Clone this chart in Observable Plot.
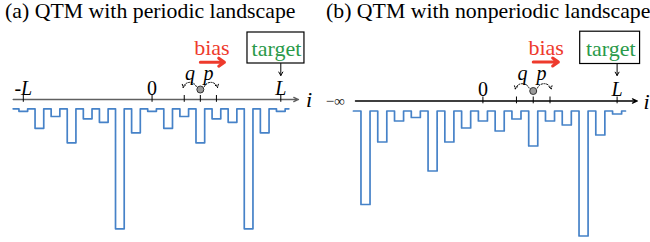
<!DOCTYPE html>
<html><head><meta charset="utf-8">
<script src="https://cdn.jsdelivr.net/npm/d3@7"></script>
<script src="https://cdn.jsdelivr.net/npm/@observablehq/plot@0.6"></script>
<style>
body{margin:0;background:#fff;font-family:"Liberation Serif",serif;}
#wrap{display:flex;width:650px;height:242px;overflow:hidden;background:#fff}
.panel{width:325px;flex:0 0 325px;position:relative}
.title{height:26px;line-height:22px;font-size:21.8px;white-space:nowrap;color:#000;font-family:"Liberation Serif",serif}
svg{overflow:visible}
svg text{font-family:"Liberation Serif",serif !important}
</style></head><body>
<div id="wrap">
  <div class="panel" id="pa"><div class="title" style="padding-left:5px">(a) QTM with periodic landscape</div></div>
  <div class="panel" id="pb"><div class="title" style="padding-left:1px">(b) QTM with nonperiodic landscape</div></div>
</div>
<script>
// ---- data ----
const sitesA = [-8,-7,-6,-5,-4,-3,-2,-1,0,1,2,3,4,5,6,7,8];
const depthA = [2.5,19.5,7.7,34,10,13.5,120,24,2.5,19.5,7.7,34,10,13.5,120,24,2.5];
const sitesB = [-7,-6,-5,-4,-3,-2,-1,0,1,2,3,4,5,6,7,8];
const depthB = [93.5,31,10,6.5,60,31,17,10,20,8,35,10,14,125,24,3];
const ticksA = [-8,0,2,3,4,8];
const ticksB = [0,2,3,4,8];
const labelsA = [{x:-8, t:"-L", it:true},{x:0, t:"0", it:false},{x:8, t:"L", it:true}];
const labelsB = [{x:0, t:"0", it:false},{x:8, t:"L", it:true}];
const walker = 3, qSite = 2, pSite = 4, target = 8;

const BLUE = "#4682c8", RED = "#ee3a2c", GREEN = "#2a9a4a";
const FONT = "Liberation Serif";

function steps(sites, depths, start, end, hw, gap) {
  const pts = [{x:start, y:-gap}];
  sites.forEach((s,k) => {
    pts.push({x:s-hw, y:-gap}, {x:s-hw, y:-gap-depths[k]}, {x:s+hw, y:-gap-depths[k]}, {x:s+hw, y:-gap});
  });
  pts.push({x:end, y:-gap});
  return pts;
}

function panel(c) {
  return Plot.plot({
    width: 325, height: 216, margin: 0,
    x: {domain: c.xDomain, range: c.xRange, axis: null},
    y: {domain: [0, -150], range: [c.axisY, c.axisY + 150], axis: null},
    style: {background: "transparent", fontFamily: FONT, overflow: "visible"},
    marks: [
      Plot.line(steps(c.sites, c.depths, c.start, c.end, 0.27, c.gap), {x:"x", y:"y", stroke: BLUE, strokeWidth: 1.7}),
      Plot.arrow([{a:c.axisFrom, b:c.axisTo}], {x1:"a", x2:"b", y1:0, y2:0, stroke: c.axisColor, strokeWidth: 1.3, headLength: 6, headAngle: 50}),
      Plot.ruleX(c.ticks, {x: d=>d, y1: -2.8, y2: 4, stroke: "#000", strokeWidth: 1}),
      Plot.text(c.labels.filter(d=>d.it), {x:"x", y: c.labY, text:"t", lineAnchor:"bottom", fontSize: 20, fontStyle:"italic", fontFamily: FONT, fill:"#000"}),
      Plot.text(c.labels.filter(d=>!d.it), {x:"x", y: c.labY, text:"t", lineAnchor:"bottom", fontSize: 20, fontFamily: FONT, fill:"#000"}),
      Plot.text([{x:9.75, t:"i"}], {x:"x", y: c.iY, text:"t", lineAnchor:"bottom", fontSize: 22, fontStyle:"italic", fontFamily: FONT, fill:"#000"}),
      Plot.text([{x:qSite+0.36, t:"q"},{x:pSite-0.5, t:"p"}], {x:"x", y: c.qY, text:"t", lineAnchor:"bottom", fontSize: 20, fontStyle:"italic", fontFamily: FONT, fill:"#000"}),
      Plot.arrow([{a:walker-0.25, b:qSite-0.07}], {x1:"a", x2:"b", y1: 13, y2: 12, bend: -70, stroke:"#000", strokeWidth: 1, strokeDasharray:"1.2,1.5", headLength: 5}),
      Plot.arrow([{a:walker+0.25, b:pSite+0.07}], {x1:"a", x2:"b", y1: 13, y2: 12, bend: 70, stroke:"#000", strokeWidth: 1, strokeDasharray:"1.2,1.5", headLength: 5}),
      Plot.dot([walker], {x: d=>d, y: 10, r: 3.5, fill: "#9a9a9a", stroke: "#333", strokeWidth: 1}),
      Plot.text([{x: c.biasX, t:"bias"}], {x:"x", y: c.biasY, text:"t", lineAnchor:"bottom", fontSize: 22, fontFamily: FONT, fill: RED}),
      Plot.arrow([{a: walker, b: walker + 1.5}], {x1:"a", x2:"b", y1: c.biasArrowY, y2: c.biasArrowY, stroke: RED, strokeWidth: 3, headLength: 3.5, headAngle: 70}),
      Plot.rect([{a: c.boxX1, b: c.boxX2}], {x1:"a", x2:"b", y1: c.boxY1, y2: c.boxY2, fill:"none", stroke:"#000", strokeWidth: 1.2}),
      Plot.text([{x: c.targetX, t:"target"}], {x:"x", y: c.targetY, text:"t", lineAnchor:"bottom", fontSize: 22, fontFamily: FONT, fill: GREEN}),
      Plot.arrow([target], {x1: d=>d, x2: d=>d, y1: c.boxY2, y2: c.tArrowEnd, stroke:"#000", strokeWidth: 1, headLength: 6}),
      ...(c.extra || [])
    ]
  });
}

const plotA = panel({
  xDomain: [-8, 8], xRange: [22.8, 280.3], axisY: 73, gap: 9.3,
  sites: sitesA, depths: depthA, start: -8.63, end: 8.5,
  axisFrom: -8.63, axisTo: 9.1, axisColor: "#606060",
  ticks: ticksA, labels: labelsA, labY: 4.5, iY: -7.7, qY: 20,
  biasX: 3.72, biasY: 44.5, biasArrowY: 37.3,
  boxX1: 5.93, boxX2: 9.47, boxY1: 67, boxY2: 36, targetX: 7.73, targetY: 44, tArrowEnd: 24
});
const plotB = panel({
  xDomain: [-7, 8], xRange: [40, 291.6], axisY: 74.5, gap: 10,
  sites: sitesB, depths: depthB, start: -7.72, end: 8.5,
  axisFrom: -7.6, axisTo: 9.2, axisColor: "#000",
  ticks: ticksB, labels: labelsB, labY: 5.5, iY: -7.5, qY: 21.5,
  biasX: 3.77, biasY: 46, biasArrowY: 39,
  boxX1: 5.8, boxX2: 9.37, boxY1: 69.3, boxY2: 37, targetX: 7.62, targetY: 45.3, tArrowEnd: 25.5,
  extra: [Plot.text([{x:-8.8, t:"\u2212\u221e"}], {x:"x", y: 0, text:"t", lineAnchor:"middle", fontSize: 15, fontFamily: FONT, fill:"#222"})]
});
document.getElementById("pa").appendChild(plotA);
document.getElementById("pb").appendChild(plotB);
</script>
</body></html>
